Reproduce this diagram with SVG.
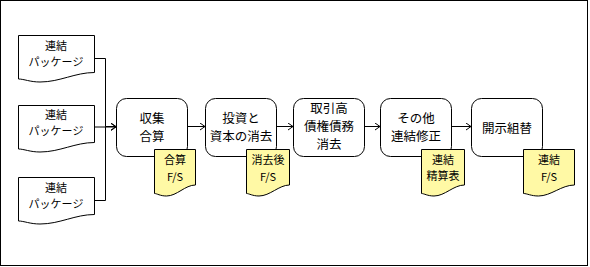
<svg xmlns="http://www.w3.org/2000/svg" width="590" height="267" viewBox="0 0 590 267">
<defs>
<style>
.frame{fill:#fff;stroke:#000;stroke-width:1}
.doc{fill:#fff;stroke:#000;stroke-width:1}
.box{fill:#fff;stroke:#000;stroke-width:1}
.note{fill:#fff9a5;stroke:#000;stroke-width:1}
.edge{fill:none;stroke:#000;stroke-width:1}
text{font-family:"Noto Sans CJK JP","Noto Sans",sans-serif;fill:#000;text-anchor:middle;dominant-baseline:central}
.t11{font-size:11px}
.t12{font-size:12.5px}
</style>
<marker id="arr" markerUnits="userSpaceOnUse" markerWidth="8" markerHeight="10" refX="6" refY="4" orient="auto">
<path d="M1,0.5 L6,4 L1,7.5" fill="none" stroke="#000" stroke-width="1"/>
</marker>
</defs>
<rect class="frame" x="0.5" y="0.5" width="587" height="265"/>
<g id="connectors">
<path class="edge" d="M94.5,58.5 H105.5 V126.5 H116" marker-end="url(#arr)"/>
<path class="edge" d="M94.5,200.5 H105.5 V126.5"/>
<path class="edge" d="M94.5,127 H116" marker-end="url(#arr)"/>
<path class="edge" d="M188,126.5 H205" marker-end="url(#arr)"/>
<path class="edge" d="M277,126.5 H293" marker-end="url(#arr)"/>
<path class="edge" d="M365,126.5 H380" marker-end="url(#arr)"/>
<path class="edge" d="M452,126.5 H471" marker-end="url(#arr)"/>
</g>
<g id="pkg1">
<path class="doc" d="M18.5,35.5 H94.5 V72.5 C75,72.5 60,82 40,82 C30,82 24,79 18.5,79 Z"/>
<text class="t11" x="56" y="45">連結</text>
<text class="t11" x="56" y="61">パッケージ</text>
</g>
<g id="pkg2">
<path class="doc" d="M18.5,105.5 H94.5 V142.5 C75,142.5 60,152 40,152 C30,152 24,149 18.5,149 Z"/>
<text class="t11" x="56" y="114">連結</text>
<text class="t11" x="56" y="130">パッケージ</text>
</g>
<g id="pkg3">
<path class="doc" d="M18.5,177.5 H94.5 V214.5 C75,214.5 60,224 40,224 C30,224 24,221 18.5,221 Z"/>
<text class="t11" x="56" y="187">連結</text>
<text class="t11" x="56" y="203">パッケージ</text>
</g>
<g id="box1">
<rect class="box" x="116.5" y="98.5" width="71" height="58" rx="10"/>
<text class="t12" x="152" y="117">収集</text>
<text class="t12" x="152" y="135">合算</text>
</g>
<g id="box2">
<rect class="box" x="205.5" y="98.5" width="71" height="58" rx="10"/>
<text class="t12" x="241" y="117">投資と</text>
<text class="t12" x="241" y="135">資本の消去</text>
</g>
<g id="box3">
<rect class="box" x="293.5" y="98.5" width="71" height="58" rx="10"/>
<text class="t12" x="329" y="107">取引高</text>
<text class="t12" x="329" y="125">債権債務</text>
<text class="t12" x="329" y="143">消去</text>
</g>
<g id="box4">
<rect class="box" x="380.5" y="98.5" width="71" height="58" rx="10"/>
<text class="t12" x="416" y="117">その他</text>
<text class="t12" x="416" y="135">連結修正</text>
</g>
<g id="box5">
<rect class="box" x="471.5" y="98.5" width="71" height="58" rx="10"/>
<text class="t12" x="507" y="127">開示組替</text>
</g>
<g id="note1">
<path class="note" d="M154.5,149.5 H195.5 V185 C185,185 177,196 166.5,196 C160,196 157,193.5 154.5,193.5 Z"/>
<text class="t11" x="175" y="159">合算</text>
<text class="t11" x="175" y="175.5">F/S</text>
</g>
<g id="note2">
<path class="note" d="M246.5,149.5 H289.5 V185 C279,185 270,196 259,196 C252.5,196 249,193.5 246.5,193.5 Z"/>
<text class="t11" x="268" y="159">消去後</text>
<text class="t11" x="268" y="175.5">F/S</text>
</g>
<g id="note3">
<path class="note" d="M421.5,149.5 H464.5 V185 C453.5,185 445,196 434,196 C427.5,196 424,193.5 421.5,193.5 Z"/>
<text class="t11" x="443" y="159">連結</text>
<text class="t11" x="443" y="175">精算表</text>
</g>
<g id="note4">
<path class="note" d="M523.5,149.5 H574.5 V185 C561.5,185 551,196 538.5,196 C531,196 527,193.5 523.5,193.5 Z"/>
<text class="t11" x="549" y="159">連結</text>
<text class="t11" x="549" y="175.5">F/S</text>
</g>
</svg>
